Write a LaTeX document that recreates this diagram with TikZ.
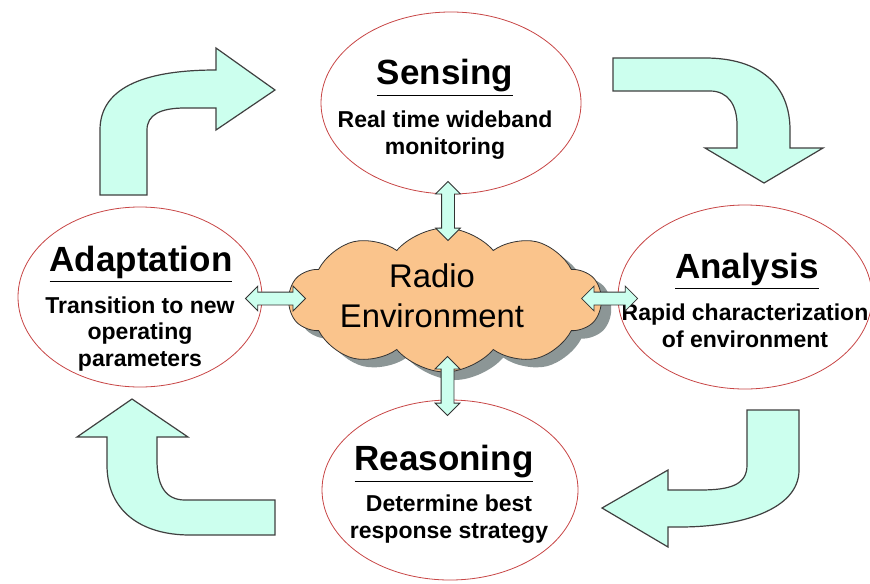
\documentclass[tikz,border=0pt]{standalone}
\usepackage{fontspec}
\setmainfont{Liberation Sans}
\usetikzlibrary{arrows.meta, positioning, shapes, shadows, calc}
\definecolor{mint}{RGB}{204,255,238}
\definecolor{peach}{RGB}{250,196,140}
\definecolor{rimred}{RGB}{200,70,70}
\definecolor{shade}{RGB}{140,150,150}

\begin{document}
\begin{tikzpicture}[x=0.5pt, y=-0.5pt,
    stage/.style={ellipse, draw=rimred, fill=white, inner sep=0pt},
    title/.style={font=\fontsize{17.5}{20}\selectfont\bfseries},
    detail/.style={font=\fontsize{11.5}{13.4}\selectfont\bfseries, align=center},
    link/.style={double arrow, draw=black!80, fill=mint, inner xsep=0pt, inner ysep=3pt,
        minimum width=12pt, double arrow head extend=3pt, double arrow head indent=0pt},
    turnarrow/.style={draw=black!75, fill=mint, line width=0.6pt}]
    \fill[white] (0,0) rectangle (870,583);
    \useasboundingbox (0,0) rectangle (870,583);

    % Cycle arrows
    \draw[turnarrow] (100,195) -- (100,130) .. controls (100,85) and (150,70) .. (216,70)
        -- (216,48) -- (275,90) -- (216,130) -- (216,108) -- (185,108)
        .. controls (160,108) and (147,115) .. (147,130) -- (147,195) -- cycle;
    \draw[turnarrow] (613,58) -- (705,58) .. controls (760,58) and (790,85) .. (790,130)
        -- (790,148) -- (823,148) -- (764,183) -- (705,148) -- (737,148) -- (737,125)
        .. controls (737,105) and (728,91) .. (710,91) -- (613,91) -- cycle;
    \draw[turnarrow] (747,410) -- (799,410) -- (799,470) .. controls (799,510) and (740,527) .. (680,527)
        -- (668,527) -- (668,547) -- (602,508) -- (668,470) -- (668,490) -- (700,490)
        .. controls (730,490) and (747,485) .. (747,465) -- cycle;
    \draw[turnarrow] (275,500) -- (185,500) .. controls (165,500) and (157,485) .. (157,460)
        -- (157,437) -- (188,437) -- (132,399) -- (77,437) -- (107,437) -- (107,465)
        .. controls (107,510) and (140,535) .. (190,535) -- (275,535) -- cycle;

    % Stages
    \node[stage, minimum width=130pt, minimum height=91pt] (sense) at (451,103) {};
    \node[stage, minimum width=127pt, minimum height=92pt] (analyse) at (745,297) {};
    \node[stage, minimum width=128pt, minimum height=90pt] (reason) at (450,490) {};
    \node[stage, minimum width=122pt, minimum height=90pt] (adapt) at (140,297) {};

    \node[title] (senseT) at ($(sense)+(-6,-25)$) {\underline{Sensing}};
    \node[detail] (senseD) at ($(sense)+(-6,32)$) {Real time wideband\\monitoring};
    \node[title] (analyseT) at ($(analyse)+(2,-26)$) {\underline{Analysis}};
    \node[detail] (analyseD) at ($(analyse)+(0,29)$) {Rapid characterization\\of environment};
    \node[title] (reasonT) at ($(reason)+(-6,-26)$) {\underline{Reasoning}};
    \node[detail] (reasonD) at ($(reason)+(-1,29)$) {Determine best\\response strategy};
    \node[title] (adaptT) at ($(adapt)+(1,-33)$) {\underline{Adaptation}};
    \node[detail] (adaptD) at ($(adapt)+(0,37)$) {Transition to new\\operating\\parameters};

    % Radio environment
    \node[cloud, cloud puffs=10, cloud puff arc=100, aspect=2.3, draw=black!80, fill=peach,
        minimum width=156pt, minimum height=72pt,
        drop shadow={shadow xshift=5pt, shadow yshift=-4pt, fill=shade, opacity=1}] (env) at (445,300) {};
    \node[font=\fontsize{16.4}{20}\selectfont, align=center] (envT) at (432,296) {Radio\\Environment};

    % Links to the environment
    \node[link, rotate=90, minimum height=29.5pt] (l1) at ($(sense.south)!0.5!(env.north)$) {};
    \node[link, rotate=90, minimum height=29.5pt] (l2) at ($(reason.north)!0.5!(env.south)$) {};
    \node[link, minimum height=30pt] (l3) at ($(adapt.east)!0.5!(env.west)$) {};
    \node[link, minimum height=28pt] (l4) at ($(analyse.west)!0.5!(env.east)$) {};
\end{tikzpicture}
\end{document}
